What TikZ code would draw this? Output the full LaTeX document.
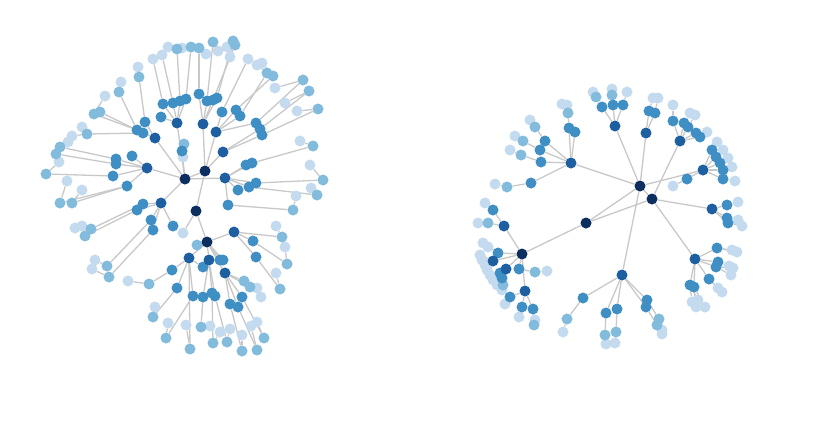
\documentclass[tikz,border=0pt]{standalone}
\usepackage{tikz}
\usetikzlibrary{backgrounds}

\definecolor{navy}{HTML}{0D2F5F}
\definecolor{deepblue}{HTML}{1D5FA0}
\definecolor{midblue}{HTML}{3F8FC5}
\definecolor{lightblue}{HTML}{82BBDB}
\definecolor{paleblue}{HTML}{C4DAEE}
\definecolor{edgegray}{HTML}{C8C8C8}

% vertex lists: name/x/y/parent
\def\lroot{la/185/179/la, lb/205/171/la, lc/196/211/lb, ld/207/242/lc,
	ra/640/186/ra, rb/652/199/ra, rc/586/223/ra, rd/522/254/rc}
\def\ldeep{l1/177/123/la, l2/155/138/la, l3/147/168/la, l4/161/203/la,
	l5/203/124/lb, l6/216/132/lb, l7/223/152/lb, l8/225/178/la,
	l9/234/232/ld, l10/189/258/ld, l11/209/260/ld, l12/225/273/ld,
	r1/571/163/ra, r2/615/126/ra, r3/646/133/ra, r4/680/141/rb,
	r5/703/170/ra, r6/712/209/rb, r7/695/259/rb, r8/622/275/ra,
	r9/504/226/rd, r10/493/261/rd, r11/506/269/rd, r12/525/291/rd}
\def\lmid{m1/163/104/l1, m2/173/103/l1, m3/180/101/l1, m4/186/99/l1, m5/161/117/l1,
	m6/199/94/l5, m7/207/101/l5, m8/213/100/l5, m9/217/98/l5,
	m10/222/112/l6, m11/236/110/l6, m12/240/116/l6, m13/256/123/l6,
	m14/260/129/l7, m15/262/135/l7,
	m16/246/165/l8, m17/252/163/l8, m18/256/183/l8, m19/249/187/l8, m20/238/190/l8, m21/228/205/l8,
	m22/145/122/l2, m23/137/130/l2, m24/143/133/l2,
	m25/132/156/l3, m26/116/159/l3, m27/116/164/l3, m28/113/176/l3, m29/127/186/l3,
	m30/143/204/l4, m31/137/210/l4, m32/151/220/l4, m33/153/230/l4, m34/173/226/l4,
	m35/182/151/la, m36/253/241/l9, m37/256/257/l9,
	m38/203/267/l10, m39/172/270/l10, m40/177/288/l10, m41/193/296/l10,
	m42/203/297/l11, m43/212/293/l11, m44/215/296/l11,
	m45/220/260/ld, m46/223/260/ld,
	m47/230/304/l12, m48/238/307/l12, m49/242/297/l12,
	s1/602/107/r2, s2/613/105/r2, s3/623/105/r2, s4/649/111/r3, s5/655/113/r3,
	s6/673/121/r4, s7/684/123/r4, s8/688/127/r4, s9/696/133/r4, s10/700/137/r4,
	s11/712/150/r5, s12/716/157/r5, s13/720/163/r5, s14/723/170/r5, s15/723/179/r5, s16/687/179/r5,
	s17/727/205/r6, s18/727/218/r6, s19/728/223/r6,
	s20/717/248/r7, s21/718/262/r7, s22/716/267/r7, s23/709/279/r7, s24/690/285/r7, s25/694/287/r7,
	s26/617/309/r8, s27/606/313/r8, s28/647/300/r8, s29/646/307/r8, s30/583/298/r8,
	s31/569/128/r1, s32/575/132/r1, s33/545/141/r1, s34/540/150/r1, s35/541/162/r1, s36/531/183/r1,
	s37/493/210/r9, s38/498/253/rd, s39/519/269/rd,
	s40/510/297/r12, s41/522/307/r12, s42/533/309/r12, s43/500/273/r11, s44/502/278/r11}
\def\llight{t1/139/77/m22, t2/119/92/m23, t3/100/112/m24, t4/94/114/m23, t5/87/134/m24,
	t6/60/147/m26, t7/56/154/m27, t8/46/174/m28, t9/60/203/m29, t10/72/203/m29,
	t11/91/229/m30, t12/85/236/m31, t13/107/266/m32, t14/109/277/m33,
	t15/149/284/m39, t16/153/317/m40, t17/166/338/m41, t18/190/349/l10,
	t19/201/327/m42, t20/213/343/m43, t21/227/342/m44,
	t22/242/351/m47, t23/257/350/m48, t24/264/338/m49,
	t25/244/281/l12, t26/250/287/l12, t27/280/289/m37, t28/287/264/m36, t29/282/237/l9,
	t30/293/210/m21, t31/317/195/m19, t32/323/180/m18, t33/313/146/m17,
	t34/318/109/m15, t35/309/91/m14, t36/303/80/m13, t37/267/73/m12, t38/273/76/m11,
	t39/233/41/m9, t40/235/45/m8, t41/213/42/m7, t42/199/48/m6, t43/191/47/m4, t44/177/49/m3,
	t45/184/144/m35, t46/197/245/ld,
	u1/596/97/s1, u2/612/95/s2, u3/568/113/s31, u4/535/127/s33, u5/523/141/s34,
	u6/521/155/s35, u7/507/187/s36, u8/488/223/r9, u9/535/272/s39, u10/534/325/s42,
	u11/616/332/s26, u12/605/335/s27, u13/659/319/s28, u14/657/325/s29, u15/567/319/s30,
	u16/503/285/r11}
\def\lpale{p1/138/67/t1, p2/121/82/t2, p3/105/96/t4, p4/82/127/t5, p5/72/136/t5,
	p6/68/142/t6, p7/59/162/t8, p8/67/181/t9, p9/82/190/t10, p10/75/228/t11, p11/82/226/t11,
	p12/95/260/t13, p13/92/269/t14, p14/128/281/t15, p15/155/307/t16, p16/168/323/t17,
	p17/186/325/t18, p18/210/326/t19, p19/220/332/t20, p20/230/329/t21, p21/242/335/t22,
	p22/251/326/t23, p23/257/322/t24, p24/257/288/t25, p25/261/297/t26, p26/276/273/t27,
	p27/285/247/t28, p28/276/226/t29, p29/296/196/t30, p30/311/188/t31, p31/310/165/t32,
	p32/300/141/t33, p33/297/111/t34, p34/285/103/t35, p35/275/88/t36, p36/257/65/t37,
	p37/262/63/t38, p38/248/59/m10, p39/230/57/t39, p40/227/47/t40, p41/218/51/t41,
	p42/206/54/t42, p43/182/48/t43, p44/168/47/t44, p45/162/55/m2, p46/153/59/m1,
	p47/183/157/m35, p48/183/233/lc,
	q1/593/92/u1, q2/612/89/u2, q3/627/92/s3, q4/653/98/s4, q5/658/98/s5,
	q6/673/105/s6, q7/690/113/s7, q8/695/115/s8, q9/707/132/s10,
	q10/717/142/s11, q11/723/150/s12, q12/728/158/s13, q13/732/167/s14, q14/735/181/s15,
	q15/673/186/s16, q16/738/202/s17, q17/738/220/s18, q18/742/226/s19,
	q19/732/250/s20, q20/737/252/s20, q21/729/266/s21, q22/733/268/s22, q23/731/275/s22,
	q24/718/288/s23, q25/722/292/s23, q26/692/302/s24, q27/698/300/s24, q28/696/307/s25,
	q29/705/307/s25, q30/615/343/u11, q31/606/344/u12, q32/662/330/u13, q33/662/334/u14,
	q34/563/332/u15, q35/562/104/u3, q36/567/105/u3, q37/530/120/u4, q38/515/136/u5,
	q39/510/150/u6, q40/495/184/u7, q41/485/203/s37, q42/478/223/u8, q43/483/243/s38,
	q44/488/247/s38, q45/480/255/r10, q46/482/260/r10, q47/485/265/r10, q48/487/270/r10,
	q49/490/275/r10, q50/493/280/r11, q51/497/285/s43, q52/502/290/s44, q53/547/271/u9,
	q54/505/304/s40, q55/519/317/s41, q56/535/320/s42}

\begin{document}
\begin{tikzpicture}[x=1pt,y=-1pt]
	\tikzset{vertex/.style = {shape=circle,minimum size=11pt,inner sep=0pt,draw=none}}
	\tikzset{vroot/.style = {vertex,fill=navy}}
	\tikzset{vdeep/.style = {vertex,fill=deepblue}}
	\tikzset{vmid/.style = {vertex,fill=midblue}}
	\tikzset{vlight/.style = {vertex,fill=lightblue}}
	\tikzset{vpale/.style = {vertex,fill=paleblue}}
	\tikzset{edge/.style = {edgegray,line width=1.3pt}}

	\useasboundingbox (0,0) rectangle (831,442);

	% vertices, outer ring first so the inner ones sit on top
	\foreach \n/\x/\y/\p in \lpale {\node[vpale] (\n) at (\x,\y) {};}
	\foreach \n/\x/\y/\p in \llight {\node[vlight] (\n) at (\x,\y) {};}
	\foreach \n/\x/\y/\p in \lmid {\node[vmid] (\n) at (\x,\y) {};}
	\foreach \n/\x/\y/\p in \ldeep {\node[vdeep] (\n) at (\x,\y) {};}
	\foreach \n/\x/\y/\p in \lroot {\node[vroot] (\n) at (\x,\y) {};}

	% edges
	\begin{pgfonlayer}{background}
		\foreach \n/\x/\y/\p in \lroot {\draw[edge] (\p) -- (\n);}
		\draw[edge] (rc) -- (rb);
		\foreach \n/\x/\y/\p in \ldeep {\draw[edge] (\p) -- (\n);}
		\foreach \n/\x/\y/\p in \lmid {\draw[edge] (\p) -- (\n);}
		\foreach \n/\x/\y/\p in \llight {\draw[edge] (\p) -- (\n);}
		\foreach \n/\x/\y/\p in \lpale {\draw[edge] (\p) -- (\n);}
	\end{pgfonlayer}

\end{tikzpicture}
\end{document}
